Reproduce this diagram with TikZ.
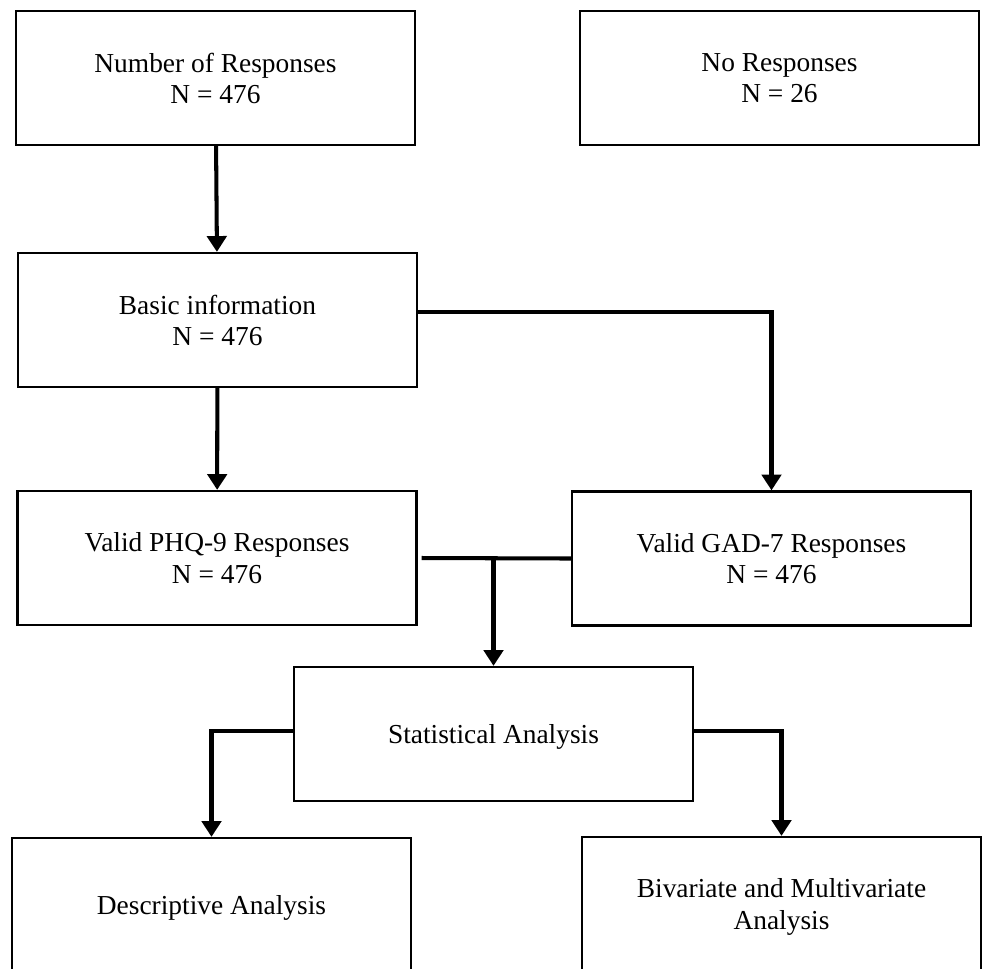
\documentclass[tikz,border=0pt]{standalone}
\usepackage{fontspec}
\setmainfont{Liberation Serif}
\usetikzlibrary{arrows.meta}
\tikzset{
  box/.style={draw, line width=1.3pt, minimum width=7.98cm, minimum height=2.68cm,
    align=center, inner sep=0pt, text depth=-2pt, font=\fontsize{15.6}{17.8}\selectfont},
  link/.style={line width=2.3pt},
  arr/.style={line width=2.3pt, -{Triangle[width=11pt,length=9pt]}}
}
\begin{document}
\begin{tikzpicture}
            \clip (0,0) rectangle (19.64,-19.36);
            \node[box] (resp) at (4.31,-1.56) {Number of Responses\\N = 476};
            \node[box] (noresp) at (15.59,-1.56) {No Responses\\N = 26};
            \node[box] (basic) at (4.35,-6.40) {Basic information\\N = 476};
            \node[box] (phq) at (4.34,-11.16) {Valid PHQ-9 Responses\\N = 476};
            \node[box] (gad) at (15.43,-11.17) {Valid GAD-7 Responses\\N = 476};
            \node[box] (stat) at (9.87,-14.68) {Statistical Analysis};
            \node[box] (desc) at (4.23,-18.10) {Descriptive Analysis};
            \node[box] (biv) at (15.63,-18.08) {Bivariate and Multivariate\\Analysis};
            % arrows
            \draw[arr] (resp) -- (basic);
            \draw[arr] (basic) -- (phq);
            \draw[arr] ([yshift=0.16cm]basic.east) -| (gad.north);
            \draw[link] ([xshift=0.08cm]phq.east) -- (gad.west);
            \draw[arr] (phq.east -| stat.north) -- (stat.north);
            \draw[arr] ([yshift=0.06cm]stat.west) -| (desc.north);
            \draw[arr] ([yshift=0.06cm]stat.east) -| (biv.north);
        \end{tikzpicture}
\end{document}
